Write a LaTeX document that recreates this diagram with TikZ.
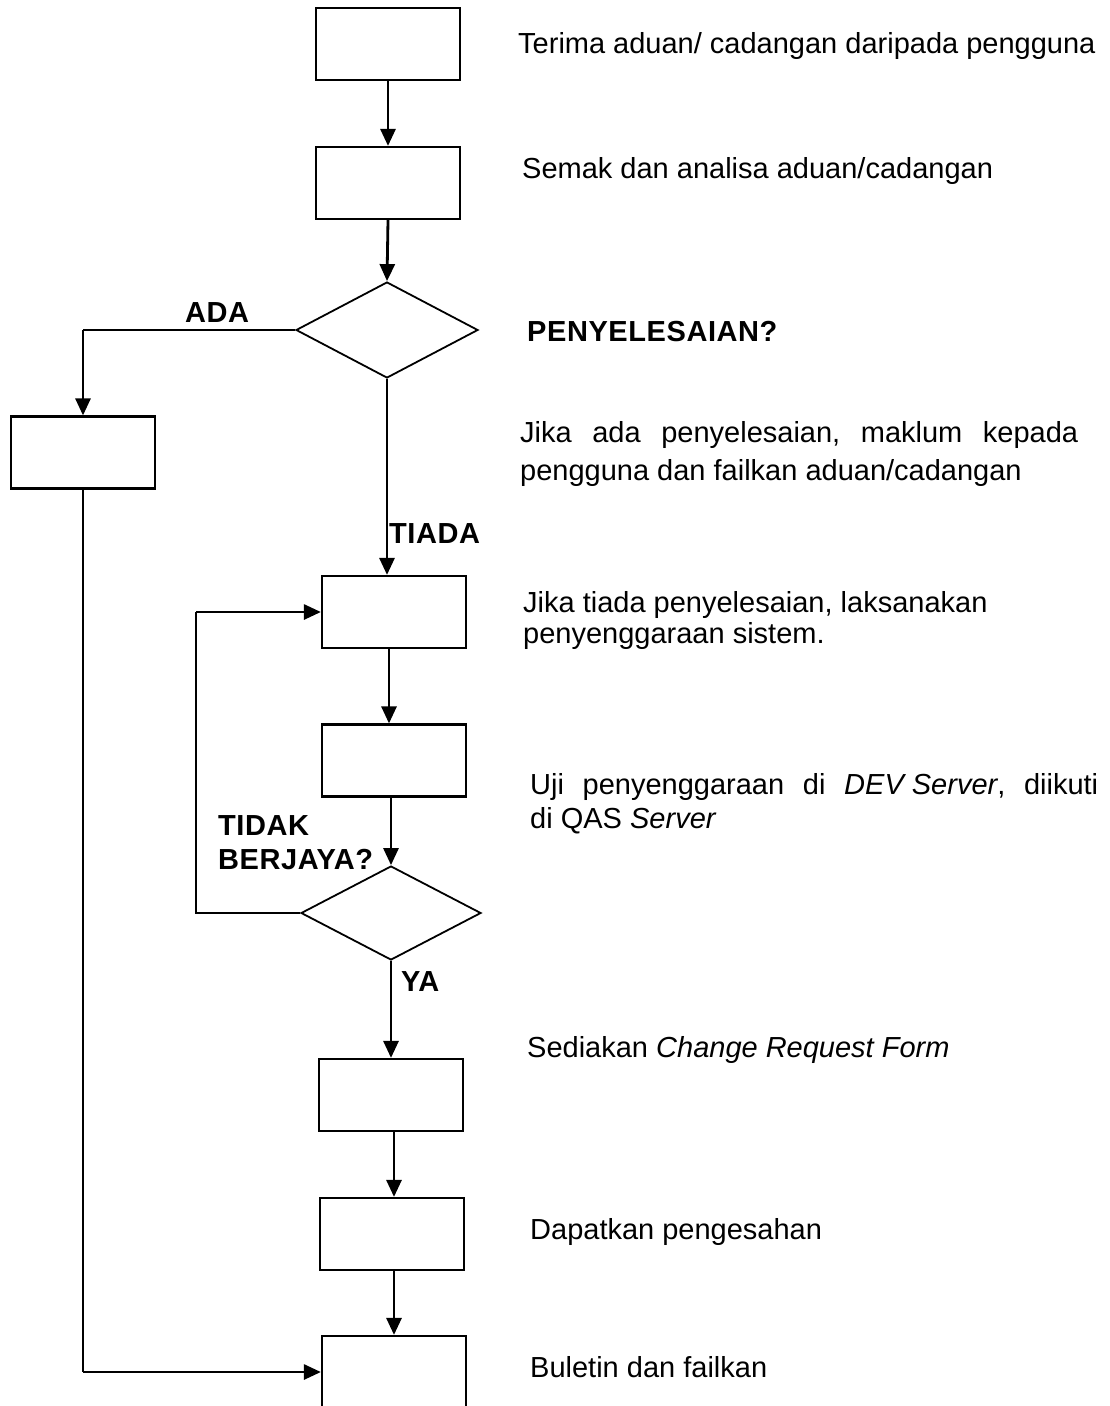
\documentclass[tikz,border=0pt]{standalone}
\usepackage{fontspec}
\setmainfont{Liberation Sans}
\newfontfamily\lblfont[LetterSpace=2]{Liberation Sans}
\usetikzlibrary{arrows.meta,shapes.geometric}

\begin{document}
\begin{tikzpicture}[x=1pt,y=-1pt,
  font=\fontsize{29}{33}\selectfont,
  stepbox/.style={draw, line width=2.2pt, minimum width=144pt, minimum height=72pt, inner sep=0pt},
  choice/.style={draw, diamond, line width=1.8pt, inner sep=0pt},
  flow/.style={line width=2.8pt, -{Triangle[length=17pt,width=15pt]}},
  thinline/.style={line width=1.4pt},
  note/.style={anchor=base west, inner sep=0pt},
  tag/.style={anchor=base west, inner sep=0pt, font=\fontsize{29}{33}\lblfont\bfseries}]

\useasboundingbox (0,0) rectangle (1110,1406);

% process boxes and decisions
\node[stepbox] (b1) at (388,44) {};
\node[stepbox] (b2) at (388,183) {};
\node[choice, minimum width=182pt, minimum height=96pt] (d1) at (387,330) {};
\node[stepbox] (b3) at (83,452.5) {};
\node[stepbox] (b4) at (394,612) {};
\node[stepbox] (b5) at (394,760.5) {};
\node[choice, minimum width=180pt, minimum height=94pt] (d2) at (391,913) {};
\node[stepbox] (b6) at (391,1095) {};
\node[stepbox] (b7) at (392,1234) {};
\node[stepbox] (b8) at (394,1372) {};

% descriptions beside the steps
\node[note] (t1) at (518,53) {Terima aduan/ cadangan daripada pengguna};
\node[note] (t2) at (522,178) {Semak dan analisa aduan/cadangan};
\node[tag]  (t3) at (527,341) {PENYELESAIAN?};
\node[note] (t4) at (520,442) {\hbox to 558pt{Jika\hfil\ ada\hfil\ penyelesaian,\hfil\ maklum\hfil\ kepada}};
\node[note] (t5) at (520,480) {pengguna dan failkan aduan/cadangan};
\node[note] (t6) at (523,612) {Jika tiada penyelesaian, laksanakan};
\node[note] (t7) at (523,643) {penyenggaraan sistem.};
\node[note] (t8) at (530,794) {\hbox to 568pt{Uji\hfil\ penyenggaraan\hfil\ di\hfil\ \textit{DEV Server},\hfil\ diikuti}};
\node[note] (t9) at (530,828) {di QAS \textit{Server}};
\node[note] (t10) at (527,1057) {Sediakan \textit{Change Request Form}};
\node[note] (t11) at (530,1239) {Dapatkan pengesahan};
\node[note] (t12) at (530,1377) {Buletin dan failkan};

% branch labels
\node[tag] (lada) at (185,322) {ADA};
\node[tag] (ltiada) at (389,543) {TIADA};
\node[tag] (ltidak) at (218,835) {TIDAK};
\node[tag] (lberjaya) at (218,869) {BERJAYA?};
\node[tag] (lya) at (401,991) {YA};

% connectors
\draw[flow] (b1.south) -- (b2.north);
\draw[flow] (b2.south) -- (d1.north);
\draw[thinline] (d1.west) -- (d1.west -| b3.north);
\draw[flow] (d1.west -| b3.north) -- (b3.north);
\draw[flow] (d1.south) -- (d1.south |- b4.north);
\draw[flow] ([xshift=-5pt]b4.south) -- ([xshift=-5pt]b5.north);
\draw[flow] ([xshift=-3pt]b5.south) -- (d2.north);
\coordinate (lc) at (196,0);
\draw[thinline] (d2.west) -| (lc |- b4.west);
\draw[flow] (lc |- b4.west) -- (b4.west);
\draw[flow] (d2.south) -- (d2.south |- b6.north);
\draw[flow] ([xshift=3pt]b6.south) -- ([xshift=3pt]b6.south |- b7.north);
\draw[flow] ([xshift=2pt]b7.south) -- ([xshift=2pt]b7.south |- b8.north);
\draw[thinline] (b3.south) -- (b3.south |- b8.west);
\draw[flow] (b3.south |- b8.west) -- (b8.west);
\end{tikzpicture}
\end{document}
